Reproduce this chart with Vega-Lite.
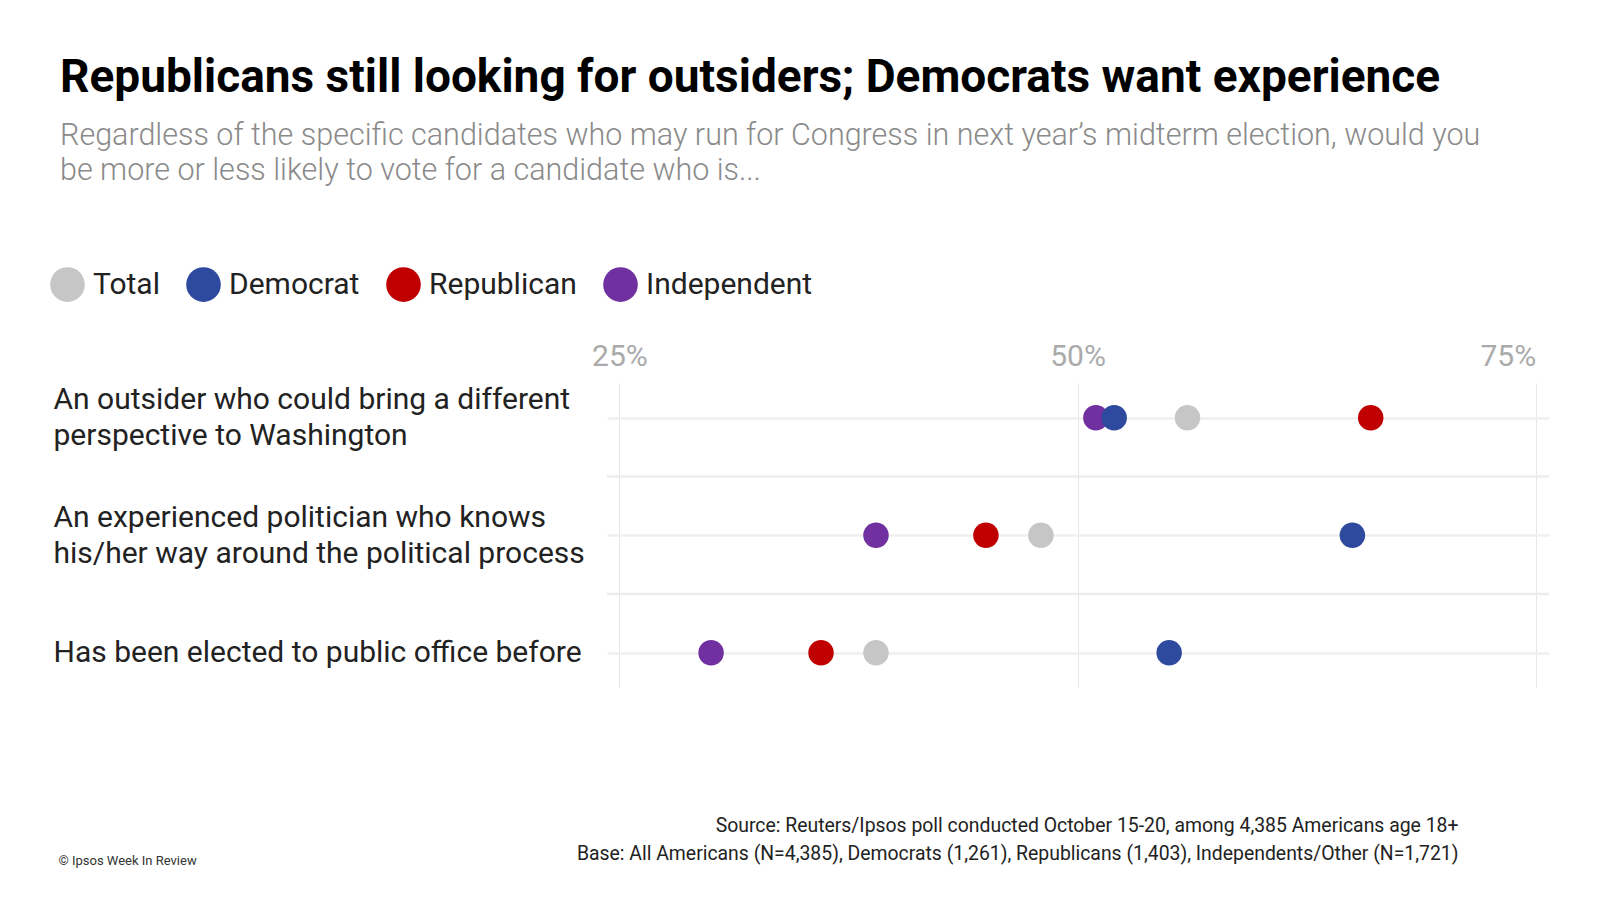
{
  "$schema": "https://vega.github.io/schema/vega-lite/v6.json",
  "width": 942,
  "height": 304.4,
  "autosize": {"type": "none"},
  "padding": {"left": 607, "top": 383, "right": 51, "bottom": 212.6},
  "background": "white",
  "config": {"view": {"stroke": null}, "font": "Roboto"},
  "title": {
    "text": "Republicans still looking for outsiders; Democrats want experience",
    "subtitle": ["Regardless of the specific candidates who may run for Congress in next year’s midterm election, would you", "be more or less likely to vote for a candidate who is..."],
    "anchor": "start",
    "frame": "group",
    "dx": -547,
    "offset": 80,
    "font": "Roboto",
    "fontSize": 46,
    "fontWeight": "bold",
    "color": "#000000",
    "subtitleFont": "Roboto",
    "subtitleFontSize": 30.5,
    "subtitleFontWeight": 300,
    "subtitleColor": "#8a8a8a",
    "subtitleLineHeight": 35,
    "subtitlePadding": 19
  },
  "data": {
    "values": [
      {"question": "An outsider who could bring a different perspective to Washington", "party": "Independent", "pct": 51},
      {"question": "An experienced politician who knows his/her way around the political process", "party": "Independent", "pct": 39},
      {"question": "Has been elected to public office before", "party": "Independent", "pct": 30},
      {"question": "An outsider who could bring a different perspective to Washington", "party": "Republican", "pct": 66},
      {"question": "An experienced politician who knows his/her way around the political process", "party": "Republican", "pct": 45},
      {"question": "Has been elected to public office before", "party": "Republican", "pct": 36},
      {"question": "An outsider who could bring a different perspective to Washington", "party": "Total", "pct": 56},
      {"question": "An experienced politician who knows his/her way around the political process", "party": "Total", "pct": 48},
      {"question": "Has been elected to public office before", "party": "Total", "pct": 39},
      {"question": "An outsider who could bring a different perspective to Washington", "party": "Democrat", "pct": 52},
      {"question": "An experienced politician who knows his/her way around the political process", "party": "Democrat", "pct": 65},
      {"question": "Has been elected to public office before", "party": "Democrat", "pct": 55}
    ]
  },
  "layer": [
    {
      "transform": [
        {"filter": "datum.party == 'Total' && datum.question != 'An outsider who could bring a different perspective to Washington'"}
      ],
      "mark": {"type": "rule", "color": "#ececec", "strokeWidth": 2.5, "yOffset": -58.75},
      "encoding": {
        "y": {
          "field": "question",
          "type": "nominal",
          "scale": {
            "type": "point",
            "padding": 0.2953,
            "domain": [
              "An outsider who could bring a different perspective to Washington",
              "An experienced politician who knows his/her way around the political process",
              "Has been elected to public office before"
            ]
          },
          "axis": {
            "orient": "right",
            "labels": false,
            "ticks": false,
            "domain": false,
            "grid": false,
            "title": "© Ipsos Week In Review",
            "titleAngle": 0,
            "titleAlign": "left",
            "titleBaseline": "top",
            "titleX": -1491,
            "titleY": 471,
            "titleFont": "Roboto",
            "titleFontSize": 13,
            "titleFontWeight": "normal",
            "titleColor": "#333333"
          }
        }
      }
    },
    {
      "mark": {"type": "circle", "size": 650, "opacity": 1},
      "encoding": {
        "x": {
          "field": "pct",
          "type": "quantitative",
          "scale": {"domain": [24.32, 75.73], "nice": false, "zero": false},
          "axis": {
            "orient": "top",
            "values": [25, 50, 75],
            "labelExpr": "datum.value + '%'",
            "labelAlign": {"condition": {"test": "datum.value == 75", "value": "right"}, "value": "center"},
            "labelFont": "Roboto",
            "labelFontSize": 30,
            "labelColor": "#aaaaaa",
            "labelPadding": 12,
            "ticks": false,
            "domain": false,
            "grid": true,
            "gridColor": "#e6e6e6",
            "gridWidth": 1,
            "title": null
          }
        },
        "y": {
          "field": "question",
          "type": "nominal",
          "scale": {
            "type": "point",
            "padding": 0.2953,
            "domain": [
              "An outsider who could bring a different perspective to Washington",
              "An experienced politician who knows his/her way around the political process",
              "Has been elected to public office before"
            ]
          },
          "axis": {
            "orient": "left",
            "labelExpr": "datum.value == 'An outsider who could bring a different perspective to Washington' ? ['An outsider who could bring a different', 'perspective to Washington'] : datum.value == 'An experienced politician who knows his/her way around the political process' ? ['An experienced politician who knows', 'his/her way around the political process'] : datum.value",
            "labelAlign": "left",
            "labelBaseline": "middle",
            "labelOffset": {"condition": {"test": "datum.value == 'Has been elected to public office before'", "value": 0}, "value": -18},
            "labelPadding": 554,
            "labelFont": "Roboto",
            "labelFontSize": 30,
            "labelColor": "#222222",
            "labelLineHeight": 36,
            "labelLimit": 0,
            "ticks": false,
            "tickSize": 0,
            "domain": false,
            "grid": true,
            "gridColor": "#efefef",
            "gridWidth": 2.5,
            "title": ["Source: Reuters/Ipsos poll conducted October 15-20, among 4,385 Americans age 18+", "Base:  All Americans (N=4,385), Democrats (1,261), Republicans (1,403), Independents/Other (N=1,721)"],
            "titleAngle": 0,
            "titleAlign": "right",
            "titleBaseline": "top",
            "titleX": 851,
            "titleY": 433,
            "titleFont": "Roboto",
            "titleFontSize": 19.4,
            "titleFontWeight": "normal",
            "titleColor": "#222222",
            "titleLineHeight": 28.5
          }
        },
        "color": {
          "field": "party",
          "type": "nominal",
          "scale": {
            "domain": ["Total", "Democrat", "Republican", "Independent"],
            "range": ["#c6c6c6", "#2e4a9f", "#c00000", "#7030a0"]
          },
          "legend": {
            "orient": "none",
            "legendX": -557,
            "legendY": -116,
            "direction": "horizontal",
            "title": null,
            "symbolType": "circle",
            "symbolSize": 1200,
            "symbolOpacity": 1,
            "symbolStrokeWidth": 0,
            "labelFont": "Roboto",
            "labelFontSize": 30,
            "labelColor": "#222222",
            "labelOffset": 8,
            "labelLimit": 400,
            "columnPadding": 26,
            "padding": 0
          }
        }
      }
    }
  ],
  "resolve": {"axis": {"y": "independent"}}
}
